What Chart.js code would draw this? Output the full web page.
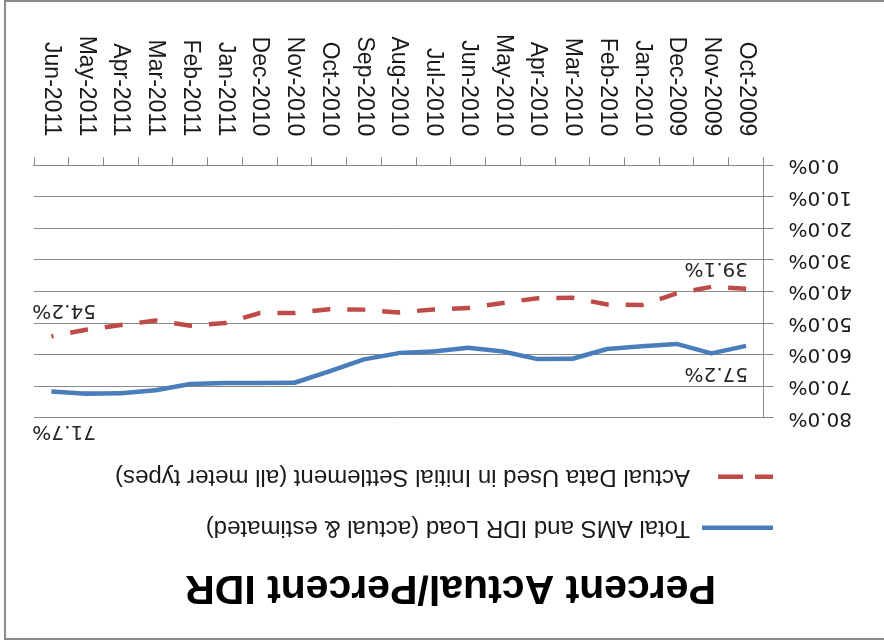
<!DOCTYPE html>
<html><head><meta charset="utf-8">
<script src="https://cdn.jsdelivr.net/npm/chart.js@4.4.1/dist/chart.umd.min.js"></script>
<style>
html,body{margin:0;padding:0;background:#fff;}
#wrap{position:absolute;left:0;top:0;width:884px;height:643px;overflow:hidden;transform:rotate(180deg);background:#fff;}
#frame{position:absolute;left:-10px;top:3px;width:890px;height:640px;box-sizing:border-box;border:2px solid #8c8c8c;}
canvas{position:absolute;left:0;top:0;}
</style></head><body>
<div id="wrap"><div id="frame"></div><canvas id="c" width="884" height="643"></canvas></div>
<script>
const chartTitle = 'Percent Actual/Percent IDR';
const categories = ['Oct-2009','Nov-2009','Dec-2009','Jan-2010','Feb-2010','Mar-2010','Apr-2010','May-2010','Jun-2010','Jul-2010','Aug-2010','Sep-2010','Oct-2010','Nov-2010','Dec-2010','Jan-2011','Feb-2011','Mar-2011','Apr-2011','May-2011','Jun-2011'];
const seriesNames = ['Total AMS and IDR Load (actual & estimated)', 'Actual Data Used in Initial Settlement (all meter types)'];
const totalAmsIdr = [57.2,59.6,56.6,57.3,58.2,61.3,61.4,59.0,57.8,59.0,59.5,61.5,65.3,68.9,69.0,69.0,69.3,71.3,72.2,72.4,71.7];
const actualDataInitial = [39.1,38.5,40.6,44.3,44.1,42.0,42.1,43.6,45.2,45.7,46.6,45.8,45.6,46.8,46.8,50.0,50.8,49.2,50.6,52.1,54.2];
const yTicks = [0,10,20,30,40,50,60,70,80];

const legendShift = {
  id: 'legendShift',
  afterLayout(chart, args, opts) {
    const l = chart.legend;
    if (!l) return;
    l.left += opts.dx; l.right += opts.dx;
    l.top += opts.dy; l.bottom += opts.dy;
  }
};

const valueLabels = {
  id: 'valueLabels',
  afterDatasetsDraw(chart, args, opts) {
    const {ctx} = chart;
    const x = chart.scales.x, y = chart.scales.y;
    ctx.save();
    ctx.font = opts.font;
    ctx.fillStyle = opts.color;
    ctx.textBaseline = 'middle';
    opts.items.forEach(it => {
      const v = chart.data.datasets[it.dataset].data[it.index];
      ctx.textAlign = it.align;
      ctx.fillText(v.toFixed(1) + '%', x.getPixelForValue(it.index) + it.dx, y.getPixelForValue(v) + it.dy);
    });
    ctx.restore();
  }
};

const last = categories.length - 1;
const legendDashes = [[], [18, 12, 25, 87]];

new Chart(document.getElementById('c'), {
  type: 'line',
  data: {
    labels: categories,
    datasets: [
      {label: seriesNames[0], data: totalAmsIdr, borderColor: '#4A7EBB', backgroundColor: '#4A7EBB', borderWidth: 4.5, pointRadius: 0, tension: 0, fill: false, borderJoinStyle: 'round'},
      {label: seriesNames[1], data: actualDataInitial, borderColor: '#BE4B48', backgroundColor: '#BE4B48', borderWidth: 4.5, borderDash: [18, 17], pointRadius: 0, tension: 0, fill: false}
    ]
  },
  options: {
    responsive: false,
    animation: false,
    devicePixelRatio: 1,
    layout: {padding: {left: 17, right: 34, top: 6, bottom: 13}},
    plugins: {
      title: {display: true, text: chartTitle, color: '#000', font: {family: 'Liberation Sans', size: 41, weight: 'bold'}, padding: {top: 25, bottom: 33}},
      legend: {
        display: true, position: 'top', align: 'start',
        labels: {
          boxWidth: 71, boxHeight: 0, padding: 27, color: '#1a1a1a',
          font: {family: 'Liberation Sans', size: 24},
          generateLabels(chart) {
            return chart.data.datasets.map((ds, i) => ({
              text: ds.label, fillStyle: 'rgba(0,0,0,0)', strokeStyle: ds.borderColor,
              lineWidth: 4.5, lineDash: legendDashes[i], lineCap: 'butt', hidden: false,
              datasetIndex: i, fontColor: '#1a1a1a'
            }));
          }
        }
      },
      tooltip: {enabled: false},
      legendShift: {dx: 67, dy: -37},
      valueLabels: {
        font: '20px "DejaVu Sans"', color: '#262626',
        items: [
          {dataset: 0, index: 0, align: 'left', dx: -2, dy: -27},
          {dataset: 0, index: last, align: 'right', dx: 19, dy: -40},
          {dataset: 1, index: 0, align: 'left', dx: -2, dy: 20},
          {dataset: 1, index: last, align: 'right', dx: 19, dy: 26}
        ]
      }
    },
    scales: {
      x: {
        type: 'category', offset: true,
        grid: {offset: true, drawOnChartArea: false, drawTicks: true, tickLength: 8, color: '#8a8a8a'},
        border: {display: true, color: '#8a8a8a'},
        ticks: {autoSkip: false, minRotation: 90, maxRotation: 90, padding: 21, color: '#1a1a1a', font: {family: 'Liberation Sans', size: 23}}
      },
      y: {
        min: 0, max: 80,
        afterBuildTicks(scale) { scale.ticks = yTicks.map(v => ({value: v})); },
        grid: {color: '#8a8a8a', tickLength: 10},
        border: {display: true, color: '#8a8a8a'},
        ticks: {padding: 15, color: '#1a1a1a', font: {family: 'DejaVu Sans', size: 20}, callback: v => Number(v).toFixed(1) + '%'}
      }
    }
  },
  plugins: [legendShift, valueLabels]
});
</script>
</body></html>
